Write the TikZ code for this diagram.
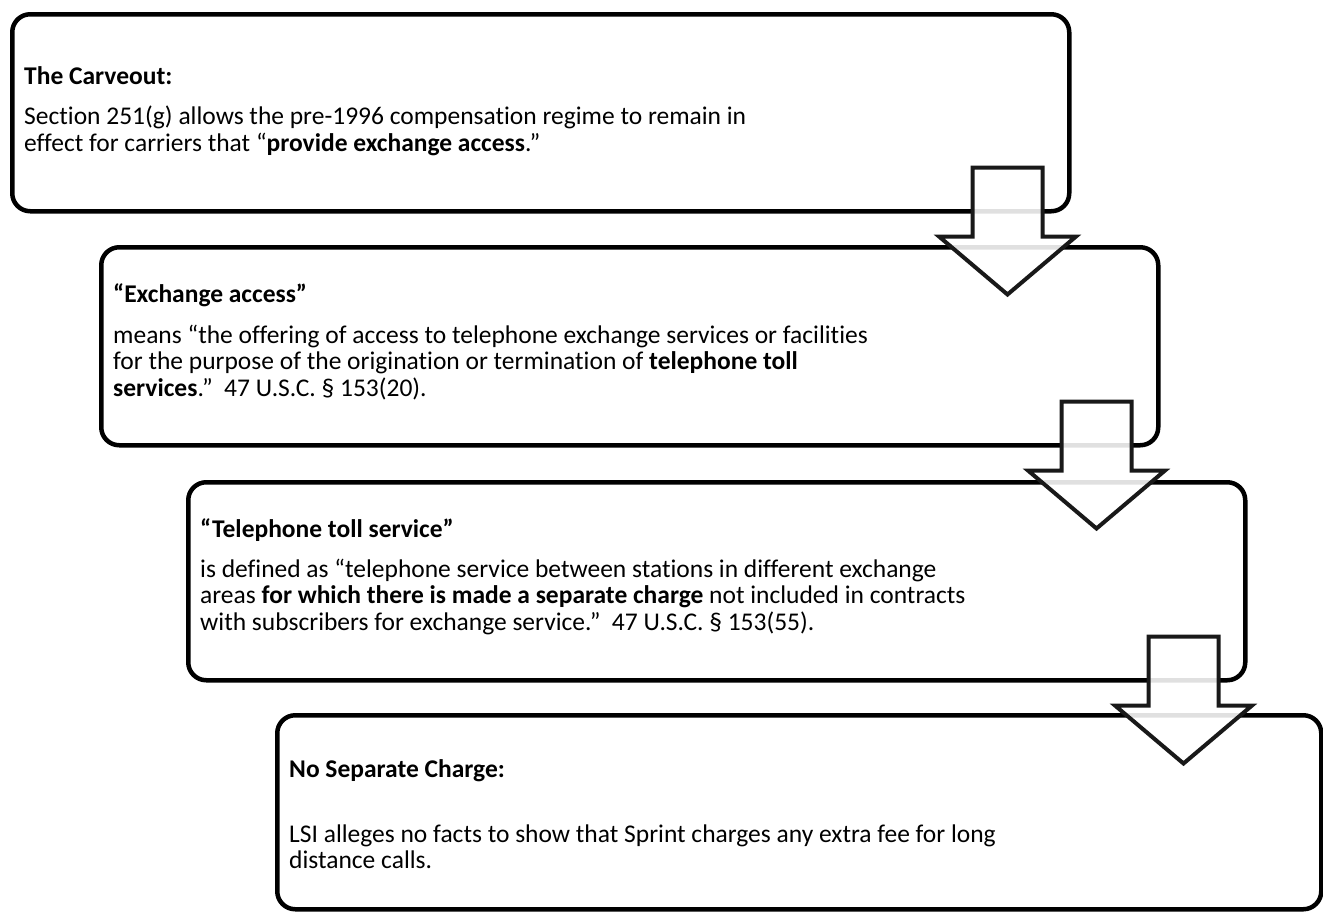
\documentclass[tikz,border=0pt]{standalone}
\usepackage{fontspec}
\setmainfont{Carlito}[Ligatures={TeX,NoCommon}]
\usetikzlibrary{calc}
\tikzset{
  box/.style={draw=black, line width=4.5pt, rounded corners=18pt, rectangle, inner sep=0pt, anchor=north west},
  ttl/.style={anchor=base west, inner sep=0pt, font=\fontsize{25.5}{26}\selectfont\bfseries},
  body/.style={anchor=north west, inner sep=0pt, align=left, font=\fontsize{25.5}{26}\selectfont},
  barrow/.style={draw=black!90, line width=4pt, fill=white, fill opacity=0.88, line join=miter},
}
\newcommand\blockarr[1]{%
  \coordinate (#1a) at ([shift={(-64pt,46pt)}]#1.south east);
  \draw[barrow] (#1a) ++(-35pt,0) -- ++(70pt,0) -- ++(0,-69pt) -- ++(33.5pt,0)
     -- ++(-68.5pt,-58pt) -- ++(-68.5pt,58pt) -- ++(33.5pt,0) -- cycle;}
\begin{document}
\begin{tikzpicture}[x=1pt,y=-1pt]
\useasboundingbox (0,0) rectangle (1323,911);
% boxes
\node[box, minimum width=1057pt, minimum height=197pt] (b1) at (10,12) {};
\node[box, minimum width=1057pt, minimum height=198pt] (b2) at (99,245) {};
\node[box, minimum width=1057pt, minimum height=198pt] (b3) at (186,480) {};
\node[box, minimum width=1044pt, minimum height=194pt] (b4) at (275,713) {};
% texts
\node[ttl] (t1) at (24,84) {The Carveout:};
\node[body] (p1) at (24,{124-18.2}) {\strut Section 251(g) allows the pre-1996 compensation regime to remain in\\\strut effect for carriers that “\textbf{provide exchange access}.”};
\node[ttl] (t2) at (113,302) {“Exchange access”};
\node[body] (p2) at (113,{343-18.2}) {\strut means “the offering of access to telephone exchange services or facilities\\\strut for the purpose of the origination or termination of \textbf{telephone toll}\\\strut \textbf{services}.”\ \ 47 U.S.C. § 153(20).};
\node[ttl] (t3) at (200,537) {“Telephone toll service”};
\node[body] (p3) at (200,{577-18.2}) {\strut is defined as “telephone service between stations in different exchange\\\strut areas \textbf{for which there is made a separate charge} not included in contracts\\\strut with subscribers for exchange service.”\ \ 47 U.S.C. § 153(55).};
\node[ttl] (t4) at (289,777) {No Separate Charge:};
\node[body] (p4) at (289,{842-18.2}) {\strut LSI alleges no facts to show that Sprint charges any extra fee for long\\\strut distance calls.};
% arrows
\blockarr{b1}
\blockarr{b2}
\blockarr{b3}
\end{tikzpicture}
\end{document}
